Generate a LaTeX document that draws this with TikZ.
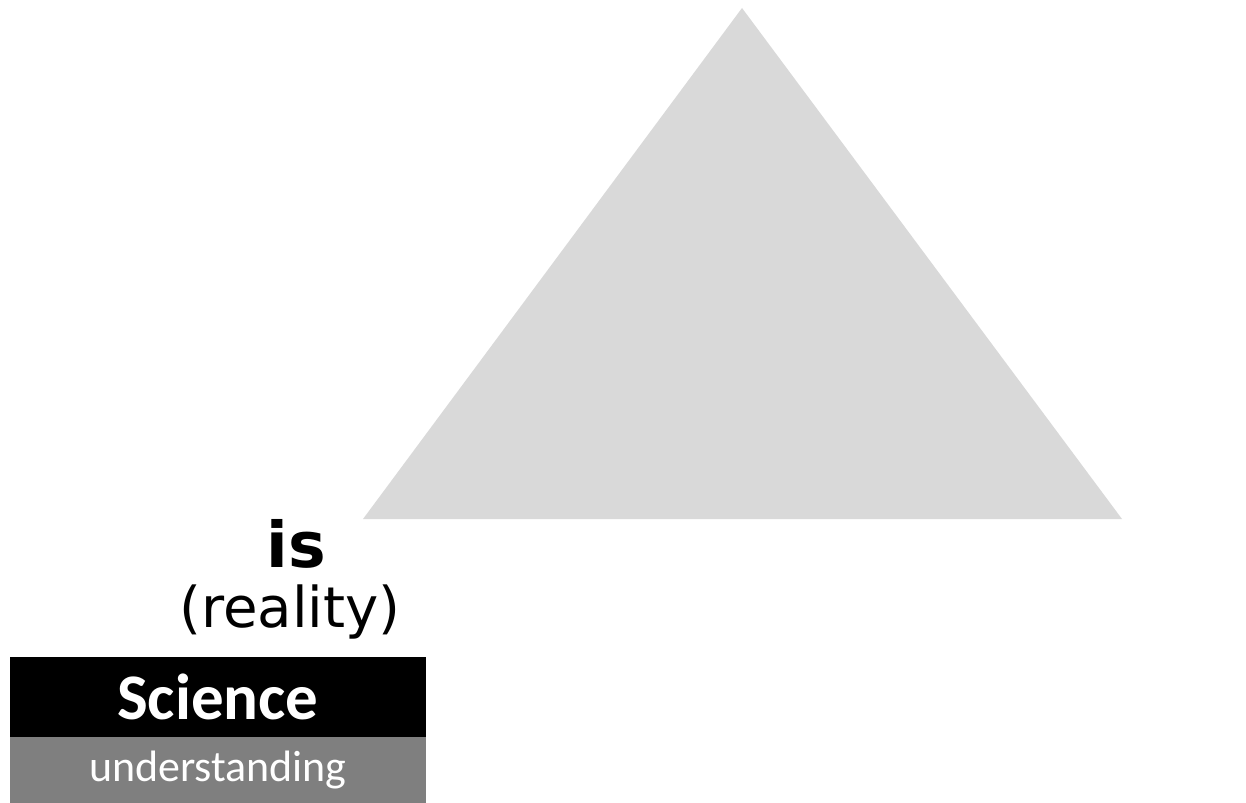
\documentclass[tikz,border=0pt]{standalone}
\usepackage{fontspec}
\usepackage{xcolor}
\usetikzlibrary{positioning}
\newfontfamily\verdanalike{DejaVu Sans}
\newfontfamily\calibrilike{Carlito}
\definecolor{trigray}{RGB}{217, 217, 217}
\definecolor{boxgray}{RGB}{127, 127, 127}

\begin{document}
\begin{tikzpicture}[
  x=0.02cm, y=-0.02cm,
  word/.style={inner sep=0pt, anchor=base, text=black},
  band/.style={minimum width=8.32cm, inner sep=0pt, outer sep=0pt, text=white, anchor=north west},
  tri/.style={fill=trigray}
]
  \useasboundingbox (0,0) rectangle (1246,803);

  % the triangle
  \fill[tri] (742,8) -- (363,519) -- (1122,519) -- cycle;

  \node[word, font=\verdanalike\bfseries\fontsize{36}{36}\selectfont] (is) at (296,567) {is};
  \node[word, font=\verdanalike\fontsize{32}{32}\selectfont] (reality) at (290,627) {(reality)};

  \node[band, fill=black, minimum height=1.6cm, font=\calibrilike\bfseries\fontsize{37}{37}\selectfont] (science) at (10,657) {Science};
  \node[band, fill=boxgray, minimum height=1.32cm, font=\calibrilike\fontsize{25}{25}\selectfont, below=0pt of science.south west, anchor=north west] (under) {understanding};

\end{tikzpicture}
\end{document}
